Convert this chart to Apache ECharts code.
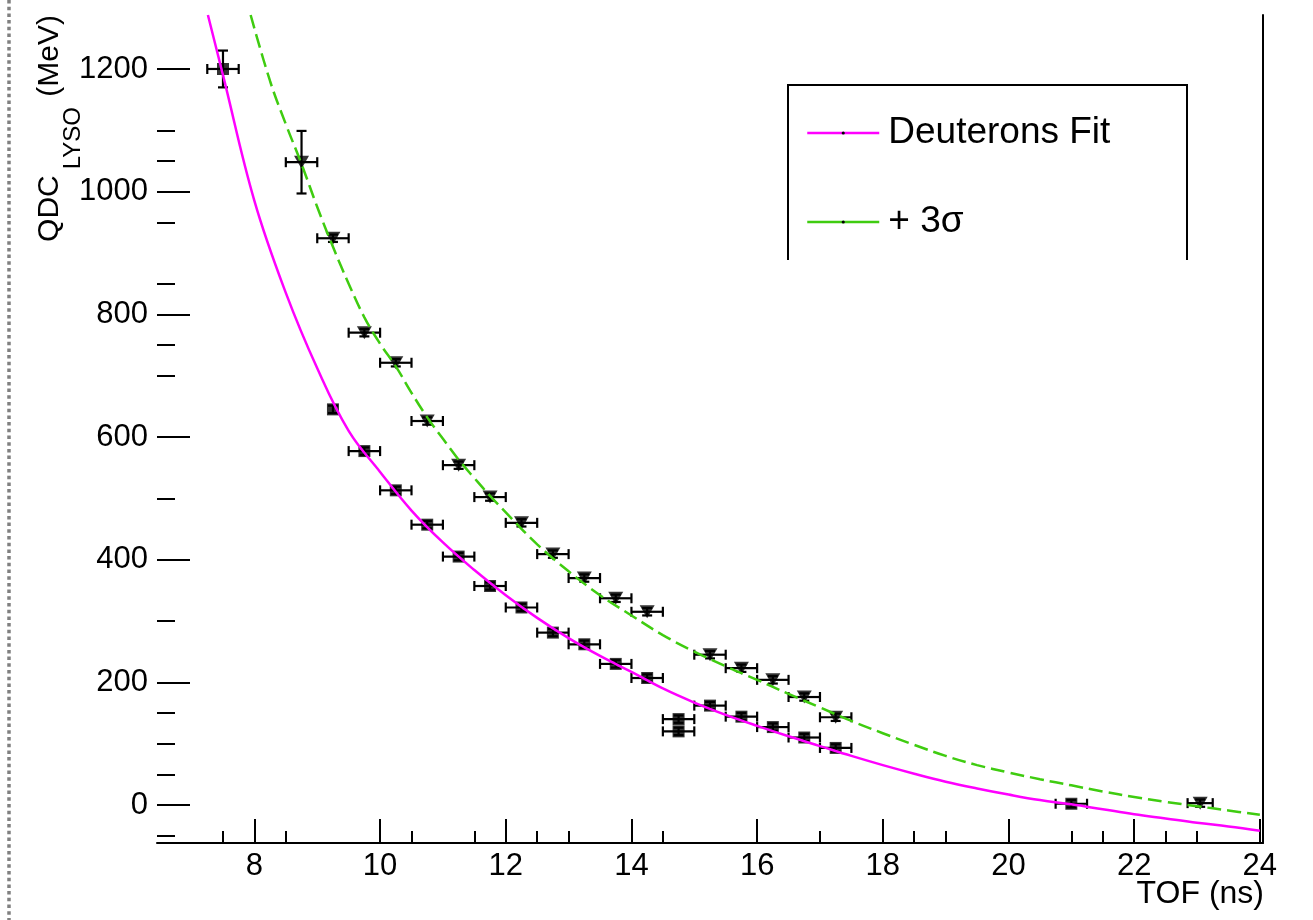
<!DOCTYPE html>
<html>
<head>
<meta charset="utf-8">
<title>QDC vs TOF</title>
<script src="https://cdn.jsdelivr.net/npm/echarts@6/dist/echarts.min.js"></script>
<style>
  html, body { margin: 0; padding: 0; background: #ffffff; }
  #chart { width: 1313px; height: 920px; }
</style>
</head>
<body>
<div id="chart"></div>
<script>
// Axis tick positions
const xMajorTicks = [8, 10, 12, 14, 16, 18, 20, 22, 24];
const xMinorTicks = [7.5, 8.5, 10.5, 11.5, 12.5, 13, 14.5, 17, 18.5, 19, 21, 21.5, 22.5, 23];
const yMajorTicks = [0, 200, 400, 600, 800, 1000, 1200];
const yMinorTicks = [-50, 50, 100, 150, 300, 500, 700, 750, 850, 950, 1050, 1100];

// Deuteron points (squares): TOF (ns), QDC (MeV) and their errors
const deuteronTof    = [7.5, 9.25, 9.75, 10.25, 10.75, 11.25, 11.75, 12.25, 12.75, 13.25, 13.75, 14.25, 14.75, 14.75, 15.25, 15.75, 16.25, 16.75, 17.25, 21.0];
const deuteronQdc    = [1200, 645, 577, 513, 457, 405, 357, 322, 281, 262, 230, 207, 140, 120, 162, 144, 127, 110, 93, 2];
const deuteronTofErr = [0.25, 0, 0.25, 0.25, 0.25, 0.25, 0.25, 0.25, 0.25, 0.25, 0.25, 0.25, 0.25, 0.25, 0.25, 0.25, 0.25, 0.25, 0.25, 0.25];
const deuteronQdcErr = [30, 6, 6, 6, 6, 6, 6, 6, 6, 6, 6, 6, 6, 6, 6, 6, 6, 6, 6, 6];

// +3 sigma points (down triangles)
const sigmaTof    = [8.75, 9.25, 9.75, 10.25, 10.75, 11.25, 11.75, 12.25, 12.75, 13.25, 13.75, 14.25, 15.25, 15.75, 16.25, 16.75, 17.25, 23.05];
const sigmaQdc    = [1048, 924, 770, 721, 626, 554, 502, 460, 409, 370, 337, 315, 245, 223, 204, 176, 143, 3];
const sigmaTofErr = [0.25, 0.25, 0.25, 0.25, 0.25, 0.25, 0.25, 0.25, 0.25, 0.25, 0.25, 0.25, 0.25, 0.25, 0.25, 0.25, 0.25, 0.2];
const sigmaQdcErr = [51, 6, 6, 6, 6, 6, 6, 6, 6, 6, 6, 6, 6, 6, 6, 6, 6, 6];

// Deuterons fit curve
const fitTof = [7.26, 7.5, 8.0, 8.5, 9.0, 9.5, 10.0, 10.5, 11.0, 11.5, 12.0, 12.5, 13.0, 13.5, 14.0, 14.5, 15.0, 15.5, 16.0, 16.5, 17.0, 17.5, 18.0, 18.5, 19.0, 19.5, 20.0, 20.5, 21.0, 21.5, 22.0, 22.5, 23.0, 23.5, 24.0];
const fitQdc = [1288, 1190, 985, 835, 712, 610, 543, 480, 428, 383, 342, 305, 272, 243, 217, 190, 167, 147, 129, 112, 96, 80, 65, 51, 38, 27, 17, 8, 1, -7, -15, -22, -29, -35, -42];

// +3 sigma curve
const sigmaFitTof = [7.94, 8.25, 8.5, 8.75, 9.0, 9.25, 9.5, 9.75, 10.0, 10.25, 10.5, 10.75, 11.0, 11.25, 11.5, 11.75, 12.0, 12.5, 13.0, 13.5, 14.0, 14.5, 15.0, 15.5, 16.0, 16.5, 17.0, 17.5, 18.0, 18.5, 19.0, 19.5, 20.0, 20.5, 21.0, 21.5, 22.0, 22.5, 23.0, 23.5, 24.0];
const sigmaFitQdc = [1288, 1180, 1110, 1045, 975, 910, 850, 795, 752, 715, 672, 632, 597, 563, 533, 504, 477, 425, 381, 342, 309, 277, 250, 226, 204, 181, 159, 137, 117, 98, 80, 65, 53, 42, 32, 22, 13, 5, -2, -9, -16];

const FONT = 'Liberation Sans, Arial, Helvetica, sans-serif';

function pairs(xs, ys) { return xs.map((x, i) => [x, ys[i]]); }
function withErrors(xs, ys, exs, eys) { return xs.map((x, i) => [x, ys[i], exs[i], eys[i]]); }

// Error bars with end caps, drawn through the axis scales
function renderErrorBars(params, api) {
  const x = api.value(0), y = api.value(1), ex = api.value(2), ey = api.value(3);
  const cap = 5;
  const style = { stroke: '#000', lineWidth: 2.2 };
  const kids = [];
  if (ex > 0) {
    const l = api.coord([x - ex, y]), r = api.coord([x + ex, y]);
    kids.push({ type: 'line', shape: { x1: l[0], y1: l[1], x2: r[0], y2: r[1] }, style });
    kids.push({ type: 'line', shape: { x1: l[0], y1: l[1] - cap, x2: l[0], y2: l[1] + cap }, style });
    kids.push({ type: 'line', shape: { x1: r[0], y1: r[1] - cap, x2: r[0], y2: r[1] + cap }, style });
  }
  if (ey > 0) {
    const t = api.coord([x, y + ey]), b = api.coord([x, y - ey]);
    kids.push({ type: 'line', shape: { x1: t[0], y1: t[1], x2: b[0], y2: b[1] }, style });
    kids.push({ type: 'line', shape: { x1: t[0] - cap, y1: t[1], x2: t[0] + cap, y2: t[1] }, style });
    kids.push({ type: 'line', shape: { x1: b[0] - cap, y1: b[1], x2: b[0] + cap, y2: b[1] }, style });
  }
  return { type: 'group', children: kids };
}

const X_MIN = 6.45, X_MAX = 24.05, Y_MIN = -62, Y_MAX = 1288;
const black = { color: '#000', width: 2 };
const plainNumber = v => String(v);

const option = {
  animation: false,
  backgroundColor: '#ffffff',
  grid: { left: 157, right: 50, top: 15, bottom: 77, containLabel: false, outerBoundsMode: 'none' },
  xAxis: [
    {
      type: 'value', min: X_MIN, max: X_MAX, position: 'bottom',
      axisLine: { show: true, onZero: false, lineStyle: black },
      axisTick: { show: true, inside: true, length: 24, customValues: xMajorTicks, lineStyle: black },
      axisLabel: { show: true, customValues: xMajorTicks, formatter: plainNumber, margin: 8, fontSize: 31, color: '#000', fontFamily: FONT },
      splitLine: { show: false }
    },
    {
      type: 'value', min: X_MIN, max: X_MAX, position: 'bottom',
      axisLine: { show: false, onZero: false },
      axisTick: { show: true, inside: true, length: 12, customValues: xMinorTicks, lineStyle: black },
      axisLabel: { show: false },
      splitLine: { show: false }
    }
  ],
  yAxis: [
    {
      type: 'value', min: Y_MIN, max: Y_MAX, position: 'left',
      axisLine: { show: false, onZero: false },
      axisTick: { show: true, inside: true, length: 33, customValues: yMajorTicks, lineStyle: black },
      axisLabel: { show: true, customValues: yMajorTicks, formatter: plainNumber, margin: 9, fontSize: 31, color: '#000', fontFamily: FONT },
      splitLine: { show: false }
    },
    {
      type: 'value', min: Y_MIN, max: Y_MAX, position: 'left',
      axisLine: { show: false, onZero: false },
      axisTick: { show: true, inside: true, length: 18, customValues: yMinorTicks, lineStyle: black },
      axisLabel: { show: false },
      splitLine: { show: false }
    },
    {
      type: 'value', min: Y_MIN, max: Y_MAX, position: 'right',
      axisLine: { show: true, onZero: false, lineStyle: black },
      axisTick: { show: false },
      axisLabel: { show: false },
      splitLine: { show: false }
    }
  ],
  legend: {
    data: ['Deuterons Fit', '+ 3σ'],
    orient: 'vertical',
    left: 801, top: 106,
    itemWidth: 72, itemHeight: 4, itemGap: 45,
    itemStyle: { color: '#000', borderWidth: 0 },
    lineStyle: { type: 'solid', width: 2.5 },
    textStyle: { fontSize: 37, color: '#000', fontFamily: FONT, lineHeight: 44, padding: [0, 0, 0, 4] }
  },
  graphic: [
    // page edge marker on the far left
    { type: 'line', shape: { x1: 9, y1: 0, x2: 9, y2: 920 },
      style: { stroke: '#808080', lineWidth: 3.5, lineDash: [3.5, 3.2] } },
    // legend frame (open at the bottom)
    { type: 'polyline', shape: { points: [[788, 260], [788, 85], [1187, 85], [1187, 260]] },
      style: { stroke: '#000', lineWidth: 2, fill: null } },
    // x-axis title, right-aligned under the axis end
    { type: 'text', x: 1264, y: 894,
      style: { text: 'TOF (ns)', align: 'right', verticalAlign: 'middle',
               fontSize: 32, fontFamily: FONT, fill: '#000' } },
    // y-axis title with subscript
    { type: 'text', x: 60, y: 15, rotation: Math.PI / 2,
      style: {
        text: '{m|QDC}{s|LYSO}{m| (MeV)}',
        align: 'right', verticalAlign: 'middle',
        rich: {
          m: { fontSize: 30, fontFamily: FONT, fill: '#000', lineHeight: 36, verticalAlign: 'top' },
          s: { fontSize: 24, fontFamily: FONT, fill: '#000', lineHeight: 50, verticalAlign: 'bottom', padding: [0, 2, 0, 6] }
        }
      } }
  ],
  series: [
    { name: 'deuteron errors', type: 'custom', xAxisIndex: 0, yAxisIndex: 0, z: 2, clip: true,
      renderItem: renderErrorBars, encode: { x: 0, y: 1 },
      data: withErrors(deuteronTof, deuteronQdc, deuteronTofErr, deuteronQdcErr) },
    { name: '3 sigma errors', type: 'custom', xAxisIndex: 0, yAxisIndex: 0, z: 2, clip: true,
      renderItem: renderErrorBars, encode: { x: 0, y: 1 },
      data: withErrors(sigmaTof, sigmaQdc, sigmaTofErr, sigmaQdcErr) },
    { name: 'Deuterons', type: 'scatter', xAxisIndex: 0, yAxisIndex: 0, z: 3,
      symbol: 'rect', symbolSize: 12, itemStyle: { color: '#000' },
      data: pairs(deuteronTof, deuteronQdc) },
    { name: '+3 sigma points', type: 'scatter', xAxisIndex: 0, yAxisIndex: 0, z: 3,
      symbol: 'triangle', symbolRotate: 180, symbolSize: [15, 13], itemStyle: { color: '#000' },
      data: pairs(sigmaTof, sigmaQdc) },
    { name: 'Deuterons Fit', type: 'line', xAxisIndex: 0, yAxisIndex: 0, z: 4,
      smooth: 0.4, symbol: 'none', clip: true,
      lineStyle: { color: '#ff00ff', width: 2.5 }, itemStyle: { color: '#ff00ff' },
      data: pairs(fitTof, fitQdc) },
    { name: '+ 3σ', type: 'line', xAxisIndex: 0, yAxisIndex: 0, z: 4,
      smooth: 0.4, symbol: 'none', clip: true,
      lineStyle: { color: '#3fcc10', width: 2.5, type: [14, 6] }, itemStyle: { color: '#3fcc10' },
      data: pairs(sigmaFitTof, sigmaFitQdc) }
  ]
};

const chart = echarts.init(document.getElementById('chart'));
chart.setOption(option);
</script>
</body>
</html>
